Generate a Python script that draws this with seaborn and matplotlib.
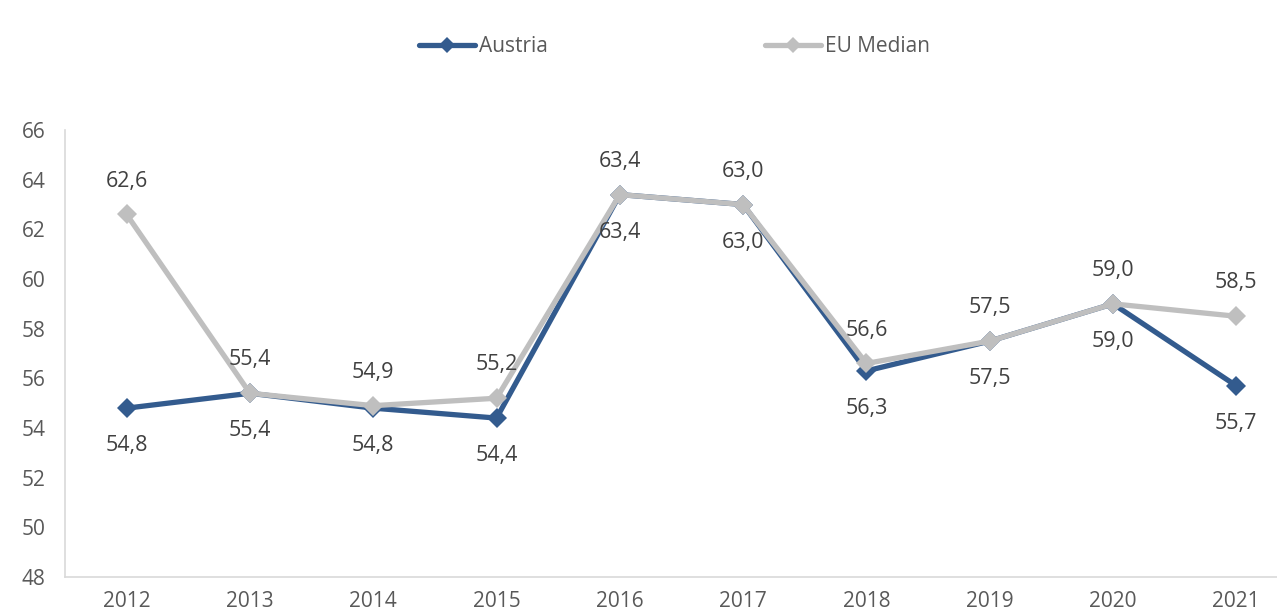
import pandas as pd
import matplotlib.pyplot as plt
import seaborn as sns

years = ['2012', '2013', '2014', '2015', '2016', '2017', '2018', '2019', '2020', '2021']
austria = [54.8, 55.4, 54.8, 54.4, 63.4, 63.0, 56.3, 57.5, 59.0, 55.7]
eu_median = [62.6, 55.4, 54.9, 55.2, 63.4, 63.0, 56.6, 57.5, 59.0, 58.5]

sns.set_style('white')
plt.rcParams['font.family'] = ['Open Sans', 'DejaVu Sans']

df = pd.DataFrame({
    'year': years * 2,
    'value': austria + eu_median,
    'series': ['Austria'] * len(years) + ['EU Median'] * len(years),
})

colors = {'Austria': '#335B8E', 'EU Median': '#BFBFBF'}
text_col = '#404040'
tick_col = '#595959'

fig = plt.figure(figsize=(12.77, 6.16), dpi=100)
ax = fig.add_axes([0.0509, 0.0633, 0.9655, 0.7256])

sns.lineplot(data=df, x='year', y='value', hue='series', style='series',
             markers={'Austria': 'D', 'EU Median': 'D'}, dashes=False,
             palette=colors, linewidth=3.8, markersize=10, markeredgewidth=0,
             ax=ax, legend=False, sort=False)

# data labels: EU above, Austria below
for i, (a, e) in enumerate(zip(austria, eu_median)):
    ax.annotate(f'{a:.1f}'.replace('.', ','), (i, a), xytext=(0, -27), textcoords='offset points',
                ha='center', va='center', fontsize=15.5, color=text_col)
    ax.annotate(f'{e:.1f}'.replace('.', ','), (i, e), xytext=(0, 24), textcoords='offset points',
                ha='center', va='center', fontsize=15.5, color=text_col)

ax.set_xlim(-0.5, 9.5)
ax.set_ylim(48, 66)
ax.set_yticks(range(48, 67, 2))
ax.set_xlabel('')
ax.set_ylabel('')
ax.tick_params(axis='both', length=0, labelsize=15, labelcolor=tick_col)
ax.tick_params(axis='x', pad=10)
ax.tick_params(axis='y', pad=14)
for s in ['top', 'right']:
    ax.spines[s].set_visible(False)
for s in ['left', 'bottom']:
    ax.spines[s].set_color('#D9D9D9')
    ax.spines[s].set_linewidth(1.2)

handles = [plt.Line2D([], [], color=colors[k], marker='D', linewidth=3.8, markersize=8,
                      markeredgewidth=0) for k in ['Austria', 'EU Median']]
fig.legend(handles, ['Austria', 'EU Median'], loc='center', bbox_to_anchor=(0.528, 0.924),
           ncol=2, frameon=False, fontsize=15, handlelength=2.7, handletextpad=0.2,
           columnspacing=10.4, labelcolor=tick_col)

fig.savefig('out.png', dpi=100)
